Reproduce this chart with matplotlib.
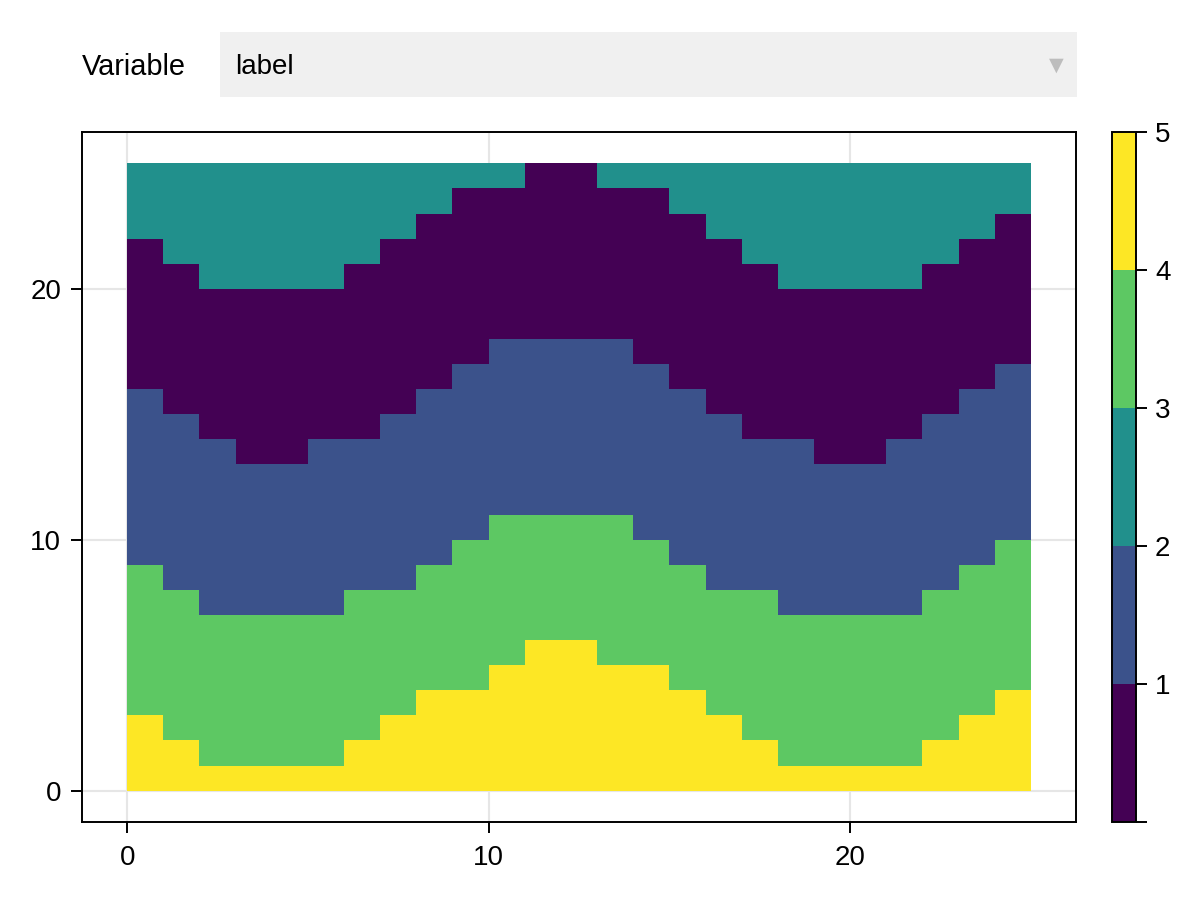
import matplotlib
matplotlib.use("Agg")
import matplotlib.pyplot as plt
import numpy as np
from matplotlib.colors import ListedColormap, BoundaryNorm
from matplotlib.cm import ScalarMappable
from matplotlib.patches import Rectangle

plt.rcParams['font.family'] = ['Liberation Sans', 'DejaVu Sans']

# top edge of each band, one value per column (bottom to top: 5, 4, 2, 1, 3)
yellow_top = [3, 2, 1, 1, 1, 1, 2, 3, 4, 4, 5, 6, 6, 5, 5, 4, 3, 2, 1, 1, 1, 1, 2, 3, 4]
green_top = [9, 8, 7, 7, 7, 7, 8, 8, 9, 10, 11, 11, 11, 11, 10, 9, 8, 8, 7, 7, 7, 7, 8, 9, 10]
blue_top = [16, 15, 14, 13, 13, 14, 14, 15, 16, 17, 18, 18, 18, 18, 17, 16, 15, 14, 14, 13, 13, 14, 15, 16, 17]
purple_top = [22, 21, 20, 20, 20, 20, 21, 22, 23, 24, 24, 25, 25, 24, 24, 23, 22, 21, 20, 20, 20, 20, 21, 22, 23]
n_rows = 25
colors = ['#440154', '#3b528b', '#21908c', '#5dc863', '#fde725']
cbar_edges = [0, 1, 2, 3, 4, 5]
cbar_labels = ['', '1', '2', '3', '4', '5']
ticks = [0, 10, 20]

# fill the label grid from the band edges
labels = np.full((n_rows, len(yellow_top)), 3)
for col in range(len(yellow_top)):
    labels[:purple_top[col], col] = 1
    labels[:blue_top[col], col] = 2
    labels[:green_top[col], col] = 4
    labels[:yellow_top[col], col] = 5

fig = plt.figure(figsize=(12, 9), dpi=100)
W, H = 1200.0, 900.0


def px_axes(left, top, right, bottom):
    return fig.add_axes([left / W, 1 - bottom / H, (right - left) / W, (bottom - top) / H])


ax = px_axes(82, 132, 1076, 822)
cmap = ListedColormap(colors)
norm = BoundaryNorm(cbar_edges, cmap.N)
ax.pcolormesh(np.arange(labels.shape[1] + 1), np.arange(n_rows + 1), labels - 0.5,
              cmap=cmap, norm=norm, zorder=2)
ax.set_xlim(-1.25, 26.25)
ax.set_ylim(-1.25, 26.25)
ax.set_xticks(ticks)
ax.set_yticks(ticks)
ax.grid(True, color='#e6e6e6', linewidth=1.5, zorder=0)
ax.set_axisbelow(True)
ax.tick_params(length=7.6, width=1.4, labelsize=20)
ax.tick_params(axis='x', pad=9)
ax.tick_params(axis='y', pad=7.5)
for s in ax.spines.values():
    s.set_linewidth(1.4)
    s.set_zorder(5)

# colorbar
cax = px_axes(1112, 132, 1136, 822)
cb = fig.colorbar(ScalarMappable(norm=norm, cmap=cmap), cax=cax, spacing='proportional')
cb.set_ticks(cbar_edges, labels=cbar_labels)
cb.ax.tick_params(length=7.6, width=1.4, labelsize=20, pad=6)
cb.ax.minorticks_off()
cb.outline.set_linewidth(1.4)
cb.outline.set_edgecolor('black')

# dropdown widget above the plot
fig.add_artist(Rectangle((220 / W, 1 - 97 / H), 857 / W, 65 / H, transform=fig.transFigure,
                         facecolor='#f0f0f0', edgecolor='none'))
fig.text(82 / W, 1 - 67 / H, 'Variable', fontsize=20.8, va='center', ha='left')
fig.text(235.5 / W, 1 - 67 / H, 'label', fontsize=20, va='center', ha='left')
fig.text(1056 / W, 1 - 66 / H, '▼', fontsize=18, va='center', ha='center', color='#bdbdbd')

fig.savefig('out.png', dpi=100)
